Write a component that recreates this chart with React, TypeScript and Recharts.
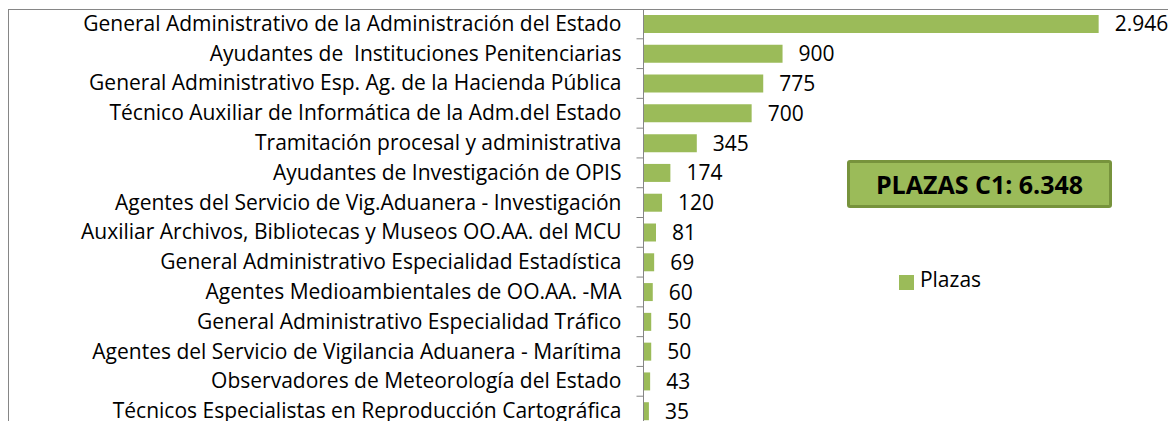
import { Bar, BarChart, LabelList, Legend, XAxis, YAxis } from 'recharts';

const categories = [
  'General Administrativo de la Administración del Estado',
  'Ayudantes de  Instituciones Penitenciarias',
  'General Administrativo Esp. Ag. de la Hacienda Pública',
  'Técnico Auxiliar de Informática de la Adm.del Estado',
  'Tramitación procesal y administrativa',
  'Ayudantes de Investigación de OPIS',
  'Agentes del Servicio de Vig.Aduanera - Investigación',
  'Auxiliar Archivos, Bibliotecas y Museos OO.AA. del MCU',
  'General Administrativo Especialidad Estadística',
  'Agentes Medioambientales de OO.AA. -MA',
  'General Administrativo Especialidad Tráfico',
  'Agentes del Servicio de Vigilancia Aduanera - Marítima',
  'Observadores de Meteorología del Estado',
  'Técnicos Especialistas en Reproducción Cartográfica',
];

const plazas = [2946, 900, 775, 700, 345, 174, 120, 81, 69, 60, 50, 50, 43, 35];

const totalLabel = 'PLAZAS C1: 6.348';

const data = categories.map((name, i) => ({ name, plazas: plazas[i] }));

const FONT = '"Open Sans", Lato, sans-serif';
const BAR_COLOR = '#9BBB59';
const AXIS_COLOR = '#868686';

const PLOT_H = 417;
const BAND = PLOT_H / categories.length;
const TICK_SIZE = 7;
const TICK_MARGIN = 15;
const TEXT_SIZE = 21;

// thousands with a dot, Spanish style
const fmt = (v: number) => String(v).replace(/\B(?=(\d{3})+(?!\d))/g, '.');

const CategoryTick = (props: any) => {
  const { x, y, payload } = props;
  const axisX = x + TICK_SIZE + TICK_MARGIN;
  return (
    <g>
      <text
        x={x}
        y={y}
        dy={7}
        textAnchor="end"
        fill="#000"
        fontSize={TEXT_SIZE}
        fontFamily={FONT}
        style={{ whiteSpace: 'pre' }}
      >
        {payload.value}
      </text>
      <line
        x1={axisX - TICK_SIZE}
        x2={axisX}
        y1={y + BAND / 2}
        y2={y + BAND / 2}
        stroke={AXIS_COLOR}
        strokeWidth={1}
      />
    </g>
  );
};

const App = () => {
  return (
    <div
      style={{
        position: 'relative',
        top: 1,
        width: 1200,
        height: 440,
        border: `1px solid ${AXIS_COLOR}`,
        background: '#fff',
        fontFamily: FONT,
      }}
    >
      <div style={{ position: 'absolute', left: 0, top: -1 }}>
        <BarChart
          layout="vertical"
          width={1180}
          height={PLOT_H}
          data={data}
          margin={{ top: 0, right: 82, bottom: 0, left: 0 }}
          barSize={18}
        >
          <XAxis type="number" domain={[0, 3000]} hide />
          <YAxis
            type="category"
            dataKey="name"
            width={634.5}
            interval={0}
            tickLine={false}
            tickSize={TICK_SIZE}
            tickMargin={TICK_MARGIN}
            axisLine={{ stroke: AXIS_COLOR }}
            tick={<CategoryTick />}
          />
          <Legend
            layout="horizontal"
            align="center"
            verticalAlign="middle"
            iconType="square"
            iconSize={15}
            wrapperStyle={{ position: 'absolute', left: 876, top: 256, width: 120 }}
            formatter={(value: string) => (
              <span style={{ color: '#000', fontSize: TEXT_SIZE, fontFamily: FONT, marginLeft: 2 }}>
                {value}
              </span>
            )}
          />
          <Bar dataKey="plazas" name="Plazas" fill={BAR_COLOR} isAnimationActive={false}>
            <LabelList
              dataKey="plazas"
              position="right"
              offset={16}
              fill="#000"
              fontSize={TEXT_SIZE}
              fontFamily={FONT}
              formatter={(v: any) => fmt(Number(v))}
            />
          </Bar>
        </BarChart>
      </div>
      <div
        style={{
          position: 'absolute',
          left: 838,
          top: 150,
          width: 265,
          height: 48,
          boxSizing: 'border-box',
          border: '3px solid #77933C',
          borderRadius: 3,
          background: BAR_COLOR,
          display: 'flex',
          alignItems: 'center',
          justifyContent: 'center',
          fontWeight: 700,
          fontSize: 25,
          color: '#000',
        }}
      >
        {totalLabel}
      </div>
    </div>
  );
};

export default App;
